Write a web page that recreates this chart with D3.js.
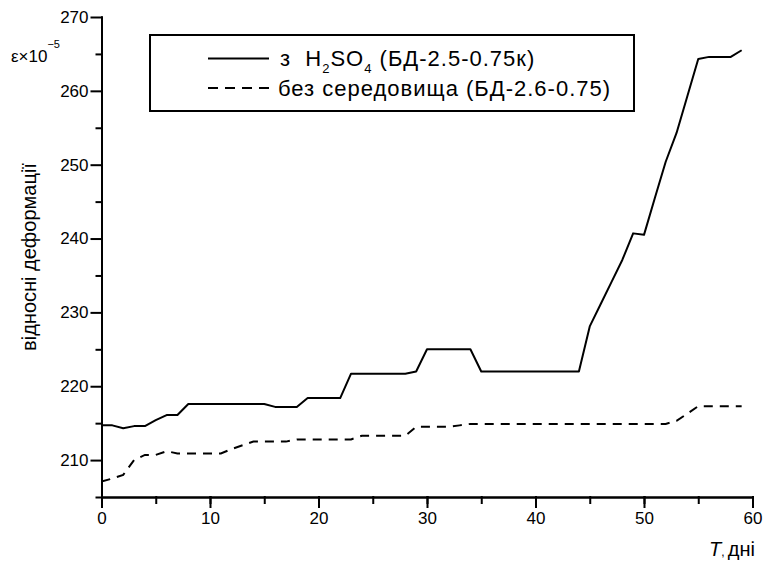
<!DOCTYPE html>
<html>
<head>
<meta charset="utf-8">
<script src="https://cdn.jsdelivr.net/npm/d3@7"></script>
<style>
  body { margin: 0; background: #fff; }
  svg { display: block; }
  text { white-space: pre; }
</style>
</head>
<body>
<main></main>
<script>
// days of measurement
var days = [0, 1, 2, 3, 4, 5, 6, 7, 8, 9, 10, 11, 12, 13, 14, 15, 16, 17, 18, 19,
    20, 21, 22, 23, 24, 25, 26, 27, 28, 29, 30, 31, 32, 33, 34, 35, 36, 37, 38, 39,
    40, 41, 42, 43, 44, 45, 46, 47, 48, 49, 50, 51, 52, 53, 54, 55, 56, 57, 58, 59];

// з H2SO4 (БД-2.5-0.75к)
var withAcid = [214.7, 214.7, 214.3, 214.6, 214.6, 215.4, 216.1, 216.1, 217.6, 217.6,
    217.6, 217.6, 217.6, 217.6, 217.6, 217.6, 217.2, 217.2, 217.2, 218.4,
    218.4, 218.4, 218.4, 221.7, 221.7, 221.7, 221.7, 221.7, 221.7, 222.0,
    225.0, 225.0, 225.0, 225.0, 225.0, 222.0, 222.0, 222.0, 222.0, 222.0,
    222.0, 222.0, 222.0, 222.0, 222.0, 228.1, 231.1, 234.1, 237.1, 240.7,
    240.5, 245.5, 250.4, 254.3, 259.3, 264.3, 264.6, 264.6, 264.6, 265.5];

// без середовища (БД-2.6-0.75)
var noMedium = [207.1, 207.5, 208.0, 210.0, 210.7, 210.7, 211.2, 210.9, 210.9, 210.9,
    210.9, 210.9, 211.5, 212.0, 212.5, 212.5, 212.5, 212.5, 212.8, 212.8,
    212.8, 212.8, 212.8, 212.8, 213.3, 213.3, 213.3, 213.3, 213.3, 214.5,
    214.5, 214.5, 214.5, 214.7, 214.9, 214.9, 214.9, 214.9, 214.9, 214.9,
    214.9, 214.9, 214.9, 214.9, 214.9, 214.9, 214.9, 214.9, 214.9, 214.9,
    214.9, 214.9, 214.9, 215.3, 216.3, 217.3, 217.3, 217.3, 217.3, 217.3];

var xMajorTicks = [0, 10, 20, 30, 40, 50, 60];
var xMinorTicks = [0, 5, 10, 15, 20, 25, 30, 35, 40, 45, 50, 55, 60];
var yMajorTicks = [210, 220, 230, 240, 250, 260, 270];
var yMinorTicks = [205, 215, 225, 235, 245, 255, 265];

var font = "'Liberation Sans', Arial, sans-serif";

var svg = d3.select("main")
    .append("svg")
    .attr("width", 764)
    .attr("height", 565)
    .attr("font-family", font);

var x = d3.scaleLinear().domain([0, 60]).range([101.5, 752.5]);
var y = d3.scaleLinear().domain([205, 270]).range([497, 17]);

// axes: minor ticks first, then the labelled ones
svg.append("g")
    .attr("transform", "translate(0," + y(205) + ")")
    .call(d3.axisBottom(x).tickValues(xMinorTicks).tickSize(6).tickFormat("").tickSizeOuter(0));

svg.append("g")
    .attr("class", "xaxis")
    .attr("transform", "translate(0," + y(205) + ")")
    .call(d3.axisBottom(x).tickValues(xMajorTicks).tickSize(10).tickPadding(5).tickSizeOuter(0));

svg.append("g")
    .attr("transform", "translate(" + x(0) + ",0)")
    .call(d3.axisLeft(y).tickValues(yMinorTicks).tickSize(5).tickFormat("").tickSizeOuter(0));

svg.append("g")
    .attr("class", "yaxis")
    .attr("transform", "translate(" + x(0) + ",0)")
    .call(d3.axisLeft(y).tickValues(yMajorTicks).tickSize(10).tickPadding(3).tickSizeOuter(0));

svg.selectAll(".domain, .tick line")
    .attr("stroke", "#000")
    .attr("stroke-width", 2)
    .attr("stroke-linecap", "square");

svg.selectAll(".tick text")
    .attr("font-family", font)
    .attr("font-size", 17)
    .attr("fill", "#000");

// data lines
var line = d3.line()
    .x(function (d) { return x(d[0]); })
    .y(function (d) { return y(d[1]); });

svg.append("path")
    .datum(days.map(function (d, i) { return [d, withAcid[i]]; }))
    .attr("d", line)
    .attr("fill", "none")
    .attr("stroke", "#000")
    .attr("stroke-width", 2)
    .attr("stroke-linejoin", "round");

svg.append("path")
    .datum(days.map(function (d, i) { return [d, noMedium[i]]; }))
    .attr("d", line)
    .attr("fill", "none")
    .attr("stroke", "#000")
    .attr("stroke-width", 2)
    .attr("stroke-dasharray", "9,7");

// legend
var legend = svg.append("g");

legend.append("rect")
    .attr("x", 150)
    .attr("y", 35)
    .attr("width", 484)
    .attr("height", 76)
    .attr("fill", "#fff")
    .attr("stroke", "#000")
    .attr("stroke-width", 2);

legend.append("line")
    .attr("x1", 208).attr("x2", 269)
    .attr("y1", 58.5).attr("y2", 58.5)
    .attr("stroke", "#000")
    .attr("stroke-width", 2);

legend.append("line")
    .attr("x1", 208).attr("x2", 269)
    .attr("y1", 88).attr("y2", 88)
    .attr("stroke", "#000")
    .attr("stroke-width", 2)
    .attr("stroke-dasharray", "10,7");

var t1 = legend.append("text")
    .attr("x", 280)
    .attr("y", 66)
    .attr("font-size", 22)
    .attr("letter-spacing", 1);
t1.append("tspan").text("з  H");
t1.append("tspan").attr("font-size", 13).attr("dy", 7).text("2");
t1.append("tspan").attr("dy", -7).text("SO");
t1.append("tspan").attr("font-size", 13).attr("dy", 7).text("4");
t1.append("tspan").attr("dy", -7).text(" (БД-2.5-0.75к)");

legend.append("text")
    .attr("x", 278)
    .attr("y", 96)
    .attr("font-size", 22)
    .attr("letter-spacing", 1)
    .text("без середовища (БД-2.6-0.75)");

// axis titles
var eps = svg.append("text")
    .attr("x", 11)
    .attr("y", 62)
    .attr("font-size", 17);
eps.append("tspan").text("ε×10");
eps.append("tspan").attr("font-size", 11).attr("dy", -14).text("−5");

svg.append("text")
    .attr("transform", "translate(36,257) rotate(-90)")
    .attr("text-anchor", "middle")
    .attr("font-size", 20)
    .text("відносні деформації");

var xt = svg.append("text")
    .attr("x", 755)
    .attr("y", 556)
    .attr("text-anchor", "end")
    .attr("font-size", 20);
xt.append("tspan").attr("font-style", "italic").text("T");
xt.append("tspan").attr("font-size", 12).text(", ");
xt.append("tspan").text("дні");
</script>
</body>
</html>
